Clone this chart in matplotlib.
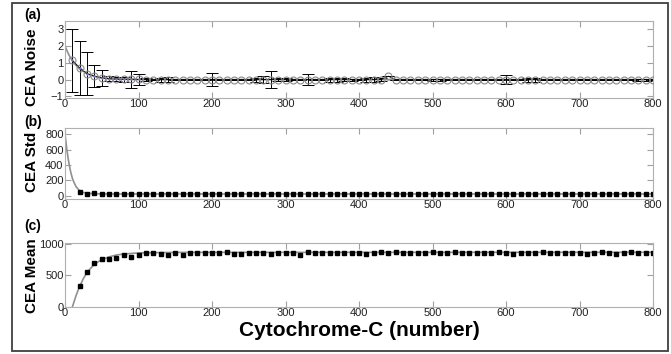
import numpy as np
import matplotlib.pyplot as plt
from matplotlib.patches import Rectangle

plt.rcParams['font.family'] = ['Liberation Sans', 'DejaVu Sans']

# panel (a): CEA noise, points every 10 from 10 to 800
xa = list(range(10, 810, 10))
noise = [1.15, 0.7, 0.35, 0.2, 0.1, 0.05, 0.03, 0.02, 0.02, 0.01] + [0.0] * 70
noise[43] = 0.2   # the lifted circle near 440
noise_err = [0.0] * 80
err_read = {10: 1.9, 20: 1.6, 30: 1.3, 40: 0.65, 50: 0.5, 60: 0.15, 70: 0.12,
            80: 0.15, 90: 0.5, 100: 0.35, 110: 0.1, 130: 0.12, 140: 0.15,
            200: 0.4, 260: 0.12, 270: 0.2, 280: 0.5, 290: 0.1, 300: 0.1,
            330: 0.35, 360: 0.12, 370: 0.12, 380: 0.1, 390: 0.06, 410: 0.12,
            420: 0.15, 430: 0.1, 500: 0.06, 510: 0.06, 570: 0.05, 600: 0.25,
            630: 0.12, 640: 0.12, 700: 0.02, 780: 0.06, 790: 0.06}
for k, v in err_read.items():
    noise_err[xa.index(k)] = v
fit_a_x = [0, 5, 10, 15, 20, 30, 40, 50, 60, 80, 100, 800]
fit_a_y = [2.0, 1.5, 1.12, 0.85, 0.63, 0.35, 0.2, 0.1, 0.05, 0.02, 0.0, 0.0]

# panel (b): CEA std
xb = list(range(20, 810, 10))
std = [55, 30, 35, 25, 22, 28, 24, 22, 25, 24, 23, 25, 24, 22, 25, 24, 23, 25,
       24, 25, 23, 24, 25, 24, 23, 25, 24, 23, 25, 24, 24, 23, 25, 24, 24, 23,
       25, 24, 24, 23, 25, 24, 24, 23, 25, 24, 24, 23, 25, 24, 24, 23, 25, 24,
       24, 23, 25, 24, 24, 23, 25, 24, 24, 23, 25, 24, 24, 23, 25, 24, 24, 23,
       25, 24, 24, 23, 25, 24, 24]
fit_b_x = [0, 2, 4, 6, 8, 10, 12, 15, 20, 25, 30, 40, 60, 800]
fit_b_y = [800, 640, 500, 390, 300, 230, 180, 120, 65, 45, 35, 28, 25, 25]

# panel (c): CEA mean
mean = [333, 555, 698, 757, 757, 783, 825, 794, 825, 853, 863, 841, 825, 857,
        831, 855, 860, 863, 850, 860, 866, 845, 845, 860, 858, 850, 840, 860,
        862, 858, 830, 875, 860, 858, 862, 850, 860, 855, 862, 845, 858, 870,
        860, 872, 860, 850, 862, 858, 865, 855, 860, 868, 862, 858, 862, 855,
        860, 865, 858, 840, 862, 858, 850, 875, 862, 858, 860, 855, 850, 848,
        860, 866, 862, 835, 860, 866, 862, 858, 858]
fit_c_x = [10, 15, 20, 25, 30, 40, 50, 60, 70, 80, 100, 150, 800]
fit_c_y = [0, 180, 330, 450, 550, 680, 750, 795, 825, 840, 858, 866, 868]

W, H = 671, 354
fig = plt.figure(figsize=(6.71, 3.54), dpi=100)
fig.patches.append(Rectangle((12 / W, 3 / H), 656 / W, 348 / H,
                             transform=fig.transFigure, fill=False,
                             edgecolor='#404040', linewidth=1.3))

ax_a = fig.add_axes([65 / W, 1 - 98 / H, 588 / W, 77 / H])
ax_b = fig.add_axes([65 / W, 1 - 199 / H, 588 / W, 71 / H])
ax_c = fig.add_axes([65 / W, 1 - 307 / H, 588 / W, 64 / H])

ax_a.plot(fit_a_x, fit_a_y, color='#909090', lw=1.2, zorder=1)
ax_a.errorbar(xa, noise, yerr=noise_err, fmt='-', color='black', lw=0.7,
              elinewidth=0.7, capsize=4, capthick=0.7, zorder=2)
ax_a.plot(xa, noise, 'o', mfc='none', mec='#8a8a8a', ms=5, mew=0.8, zorder=3)
ax_a.plot(xa[:10], noise[:10], '.', color='#8080d0', ms=1.5, zorder=4)
ax_a.set_ylim(-1.1, 3.5)
ax_a.set_yticks([-1, 0, 1, 2, 3])

ax_b.plot(fit_b_x, fit_b_y, color='#909090', lw=1.2)
ax_b.plot(xb, std, 's', color='black', ms=3)
ax_b.set_ylim(-40, 880)
ax_b.set_yticks([0, 200, 400, 600, 800])

ax_c.plot(fit_c_x, fit_c_y, color='#909090', lw=1.2)
ax_c.plot(xb, mean, 's', color='black', ms=3)
ax_c.set_ylim(0, 1015)
ax_c.set_yticks([0, 500, 1000])
ax_c.set_xlabel('Cytochrome-C (number)', fontsize=15, fontweight='bold',
                labelpad=2)

for ax in (ax_a, ax_b, ax_c):
    ax.set_xlim(0, 800)
    ax.set_xticks(range(0, 900, 100))
    ax.tick_params(direction='in', top=True, right=True, length=4,
                   color='#a0a0a0', labelsize=8, pad=1, labelcolor='#202020')
    for s in ax.spines.values():
        s.set_color('#b0b0b0')
        s.set_linewidth(0.8)

for lab, y in (('CEA Noise', 67), ('CEA Std', 162), ('CEA Mean', 276)):
    fig.text(32 / W, 1 - y / H, lab, rotation=90, fontsize=11,
             fontweight='bold', ha='center', va='center')

for lab, y in (('(a)', 15), ('(b)', 122), ('(c)', 226)):
    fig.text(24 / W, 1 - y / H, lab, fontsize=10, fontweight='bold',
             va='center', ha='left')

fig.savefig('out.png', dpi=100)
